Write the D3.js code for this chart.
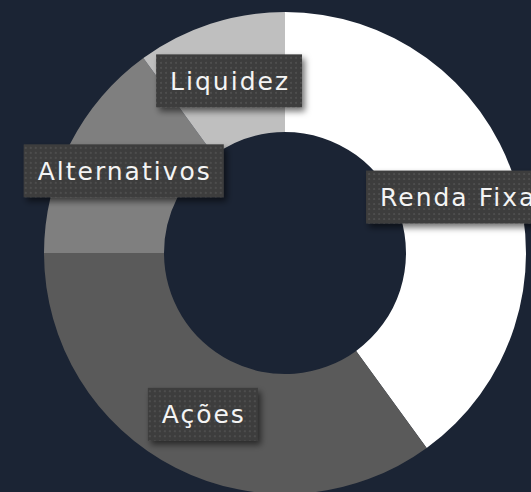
<!DOCTYPE html>
<html>
<head>
<meta charset="utf-8">
<script src="https://cdn.jsdelivr.net/npm/d3@7"></script>
<style>
  html, body { margin: 0; padding: 0; background: #1b2434; overflow: hidden; }
  svg { display: block; }
  .label text { font-family: "DejaVu Sans", sans-serif; fill: #f4f4f4; }
</style>
</head>
<body>
<div id="wrapper"></div>
<script>
// data
const categories = ["Renda Fixa", "Ações", "Alternativos", "Liquidez"];
const shares = [40, 35, 15, 10];
const sliceColors = ["#ffffff", "#5a5a5a", "#7f7f7f", "#bfbfbf"];

const dataset = categories.map((c, i) => ({ name: c, value: shares[i] }));

const width = 531, height = 492;
const cx = 285, cy = 253;
const outerR = 241, innerR = 121;

const svg = d3.select("#wrapper").append("svg")
  .attr("width", width)
  .attr("height", height);

const defs = svg.append("defs");

// dotted fill for the label boxes
const pat = defs.append("pattern")
  .attr("id", "dots")
  .attr("patternUnits", "userSpaceOnUse")
  .attr("width", 5).attr("height", 5);
pat.append("rect").attr("width", 5).attr("height", 5).attr("fill", "#3c3c3c");
pat.append("rect").attr("x", 1).attr("y", 1).attr("width", 2).attr("height", 2).attr("fill", "#4e4e4e");

const shadow = defs.append("filter").attr("id", "shadow")
  .attr("x", "-20%").attr("y", "-20%").attr("width", "140%").attr("height", "160%");
shadow.append("feDropShadow")
  .attr("dx", 3).attr("dy", 4).attr("stdDeviation", 3)
  .attr("flood-color", "#000").attr("flood-opacity", 0.55);

const color = d3.scaleOrdinal().domain(categories).range(sliceColors);

const pie = d3.pie().value(d => d.value).sort(null);
const arc = d3.arc().innerRadius(innerR).outerRadius(outerR);

const bounds = svg.append("g").attr("transform", `translate(${cx},${cy})`);

const arcs = pie(dataset);

bounds.selectAll(".slice")
  .data(arcs)
  .enter().append("path")
  .attr("class", "slice")
  .attr("d", arc)
  .attr("fill", d => color(d.data.name));

// labels at arc centroids
const spacing = 2;
const labels = bounds.selectAll(".label")
  .data(arcs)
  .enter().append("g")
  .attr("class", "label")
  .attr("transform", d => `translate(${arc.centroid(d)})`);

labels.each(function (d) {
  const g = d3.select(this);
  const rect = g.append("rect");
  const t = g.append("text")
    .attr("text-anchor", "middle")
    .attr("x", spacing / 2)
    .attr("dy", "0.36em")
    .style("font-size", "25px")
    .style("letter-spacing", spacing + "px")
    .text(d.data.name);
  const w = t.node().getComputedTextLength() - spacing;
  const padX = 14, h = 53;
  rect.attr("x", -w / 2 - padX)
    .attr("y", -h / 2)
    .attr("width", w + padX * 2)
    .attr("height", h)
    .attr("fill", "url(#dots)")
    .attr("filter", "url(#shadow)");
});
</script>
</body>
</html>
